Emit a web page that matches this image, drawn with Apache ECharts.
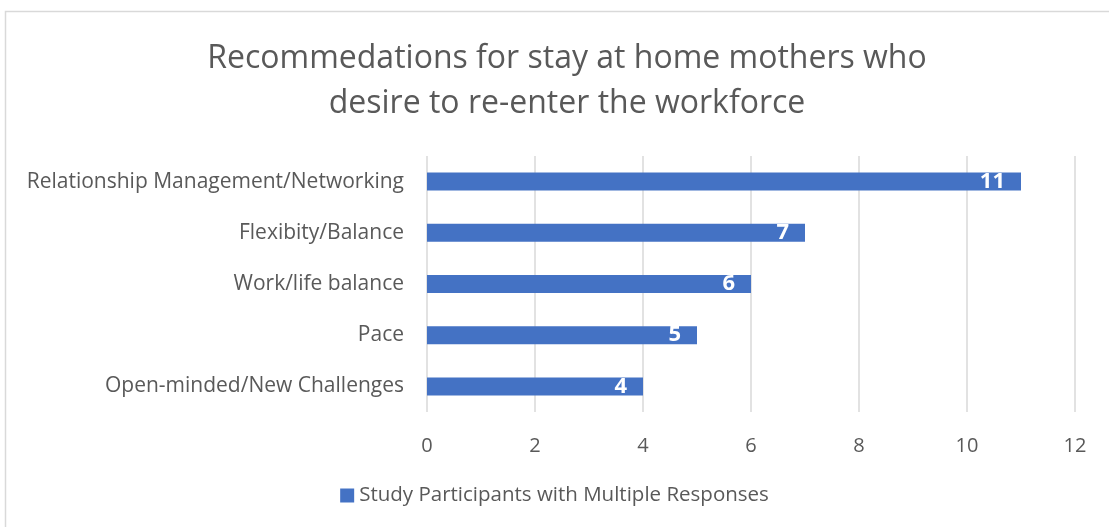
<!DOCTYPE html>
<html>
<head>
<meta charset="utf-8">
<script src="https://cdn.jsdelivr.net/npm/echarts@6/dist/echarts.min.js"></script>
<style>
  html, body { margin: 0; padding: 0; background: #fff; }
  #chart { width: 1109px; height: 527px; }
</style>
</head>
<body>
<div id="chart"></div>
<script>
// categories top to bottom in the picture, reversed for the y axis below
var categories = ["Relationship Management/Networking", "Flexibity/Balance", "Work/life balance", "Pace", "Open-minded/New Challenges"];
var counts = [11, 7, 6, 5, 4];
var seriesName = "Study Participants with Multiple Responses";

var myChart = echarts.init(document.getElementById("chart"));
var font = "'Open Sans', 'Noto Sans', sans-serif";

myChart.setOption({
  animation: false,
  textStyle: { fontFamily: font },
  graphic: [{
    type: "rect",
    shape: { x: 5.5, y: 11.5, width: 1130, height: 540 },
    style: { fill: "none", stroke: "#d9d9d9", lineWidth: 1.5 },
    silent: true
  }],
  title: {
    text: "Recommedations for stay at home mothers who\ndesire to re-enter the workforce",
    left: 562,
    textAlign: "center",
    top: 31,
    textStyle: {
      fontFamily: font,
      fontSize: 32,
      fontWeight: "normal",
      color: "#595959",
      lineHeight: 45
    }
  },
  legend: {
    bottom: 16,
    left: "center",
    data: [seriesName],
    icon: "rect",
    itemWidth: 14,
    itemHeight: 14,
    itemGap: 6,
    textStyle: { fontFamily: font, fontSize: 20.5, color: "#595959" }
  },
  grid: { left: 427, right: 34, top: 156, bottom: 115, containLabel: false },
  xAxis: {
    type: "value",
    min: 0,
    max: 12,
    interval: 2,
    axisLine: { show: false },
    axisTick: { show: false },
    splitLine: { lineStyle: { color: "#d9d9d9", width: 1.5 } },
    axisLabel: { fontFamily: font, fontSize: 20, color: "#595959", margin: 24 }
  },
  yAxis: {
    type: "category",
    inverse: true,
    data: categories,
    axisLine: { show: false },
    axisTick: { show: false },
    axisLabel: { fontFamily: font, fontSize: 21, color: "#595959", margin: 23 }
  },
  series: [{
    name: seriesName,
    type: "bar",
    data: counts,
    barWidth: 18,
    itemStyle: { color: "#4472c4" },
    label: {
      show: true,
      position: "insideRight",
      distance: 16,
      color: "#fff",
      fontWeight: "bold",
      fontSize: 22,
      fontFamily: font
    }
  }]
});
</script>
</body>
</html>
